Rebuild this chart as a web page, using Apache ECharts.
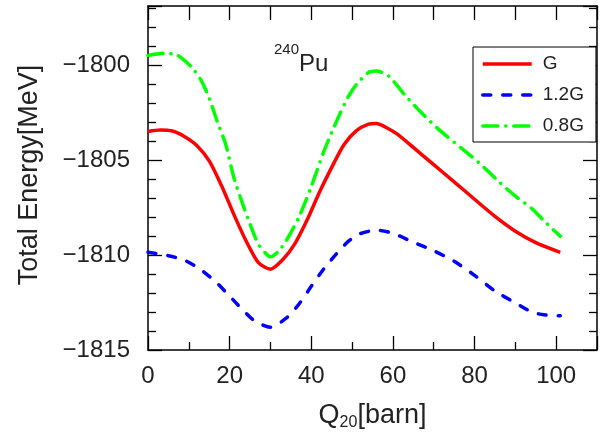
<!DOCTYPE html>
<html><head><meta charset="utf-8">
<script src="https://cdn.jsdelivr.net/npm/echarts@6/dist/echarts.min.js"></script>
<style>html,body{margin:0;padding:0;background:#fff}#c{width:600px;height:436px}</style>
</head><body><div id="c"></div>
<script>
// Q20 values (barn) and total energies (MeV)
const qG = [0,3,6,9,12,15,18,21,24,27,30,33,36,39,42,45,48,51,54,56,58,61,65,70,75,80,85,90,95,101];
const eG = [-1803.5,-1803.42,-1803.48,-1803.78,-1804.25,-1805.05,-1806.35,-1807.85,-1809.25,-1810.39,-1810.75,-1810.25,-1809.4,-1808.15,-1806.7,-1805.39,-1804.2,-1803.47,-1803.12,-1803.08,-1803.25,-1803.63,-1804.34,-1805.25,-1806.15,-1807.07,-1807.97,-1808.75,-1809.35,-1809.86];

const q12G = [0,5,9,13,17,20,23,26,30,34,37,40,43,46,49,52,56,60,65,70,75,80,85,90,94,97,101];
const e12G = [-1809.86,-1810.04,-1810.28,-1810.78,-1811.5,-1812.17,-1812.84,-1813.45,-1813.8,-1813.3,-1812.58,-1811.65,-1810.75,-1809.98,-1809.3,-1808.88,-1808.7,-1808.86,-1809.33,-1809.78,-1810.33,-1811.07,-1811.9,-1812.52,-1813.0,-1813.15,-1813.2];

const q08G = [0,4,7,9,11,13,15,17,19,21,23,25,27,29,30,32,34,37,40,43,45,47,49,51,54,56,59,63,66,71,77,81,86,90,94,97,101];
const e08G = [-1799.5,-1799.39,-1799.47,-1799.77,-1800.2,-1800.8,-1801.75,-1803.0,-1804.15,-1805.9,-1807.2,-1808.37,-1809.42,-1809.95,-1810.1,-1809.8,-1809.2,-1808.0,-1806.4,-1804.6,-1803.56,-1802.58,-1801.7,-1801.05,-1800.4,-1800.32,-1800.6,-1801.6,-1802.3,-1803.35,-1804.42,-1805.13,-1806.15,-1806.9,-1807.55,-1808.2,-1809.02];

const seriesNames = ['G', '1.2G', '0.8G'];
const xTickStep = 20, yTickStep = 5;

const font = '"Liberation Sans", Arial, Helvetica, sans-serif';
const txt = '#222';
const pairs = (q, e) => q.map((v, i) => [v, e[i]]);

const lineBlack = {color: '#000', width: 1.5};
const tickBlack = {color: '#000', width: 1.3};

const styles = [
  {color: '#ff0000', width: 3.5, type: 'solid'},
  {color: '#0000ff', width: 3.5, type: [8, 12], cap: 'round'},
  {color: '#00ff00', width: 3.5, type: [15, 8, 0.1, 8], cap: 'round'}
];

const chart = echarts.init(document.getElementById('c'));
chart.setOption({
  animation: false,
  backgroundColor: '#fff',
  grid: {left: 148, top: 6, width: 460, height: 344},
  xAxis: [{
    type: 'value', min: 0, max: 110, interval: xTickStep, position: 'bottom',
    axisLine: {onZero: false, lineStyle: lineBlack},
    axisTick: {inside: true, length: 14, lineStyle: tickBlack},
    minorTick: {show: true, splitNumber: 2, length: 8, lineStyle: tickBlack},
    splitLine: {show: false},
    axisLabel: {fontSize: 24, color: txt, margin: 14, fontFamily: font,
      formatter: v => (Math.abs(v % xTickStep) < 1e-9 ? String(v) : '')},
    name: '{a|Q}{s|20}{a|[barn]}', nameLocation: 'middle', nameGap: 51,
    nameTextStyle: {fontFamily: font, color: txt, rich: {
      a: {fontSize: 27, fontFamily: font, color: txt},
      s: {fontSize: 16, fontFamily: font, color: txt, padding: [14, 0, 0, 0]}
    }}
  }, {
    type: 'value', min: 0, max: 110, interval: 10, position: 'top',
    axisLine: {onZero: false, lineStyle: lineBlack},
    axisTick: {inside: true, length: 14, lineStyle: tickBlack},
    axisLabel: {show: false}, splitLine: {show: false}
  }],
  yAxis: [{
    type: 'value', min: -1815, max: -1796.9, interval: yTickStep, position: 'left',
    axisLine: {onZero: false, lineStyle: lineBlack},
    axisTick: {inside: true, length: 14, lineStyle: tickBlack},
    minorTick: {show: true, splitNumber: 5, length: 8, lineStyle: tickBlack},
    splitLine: {show: false},
    axisLabel: {fontSize: 24, color: txt, margin: 18, fontFamily: font,
      formatter: v => (Math.abs(v % yTickStep) < 1e-9 ? '\u2212' + Math.abs(v) : '')},
    name: 'Total Energy[MeV]', nameLocation: 'middle', nameGap: 105,
    nameTextStyle: {fontSize: 27, color: txt, fontFamily: font, padding: [0, 0, 0, 6]}
  }, {
    type: 'value', min: -1815, max: -1796.9, interval: yTickStep, position: 'right',
    axisLine: {onZero: false, lineStyle: lineBlack},
    axisTick: {inside: true, length: 14, lineStyle: tickBlack},
    minorTick: {show: true, splitNumber: 5, length: 8, lineStyle: tickBlack},
    axisLabel: {show: false}, splitLine: {show: false}
  }],
  legend: {
    orient: 'vertical', left: 473, top: 47,
    padding: [7, 12, 6, 8], itemGap: 11, itemWidth: 49, itemHeight: 14,
    borderColor: '#000', borderWidth: 1, backgroundColor: '#fff',
    textStyle: {fontSize: 19, color: txt, fontFamily: font, lineHeight: 20, padding: [0, 0, 0, 6]},
    itemStyle: {opacity: 0},
    data: seriesNames.map((n, i) => ({name: n, lineStyle: styles[i], itemStyle: {opacity: 0}}))
  },
  graphic: [
    {type: 'text', left: 274, top: 42, style: {text: '240', fontSize: 15, fontFamily: font, fill: txt}},
    {type: 'text', left: 299, top: 52, style: {text: 'Pu', fontSize: 24, fontFamily: font, fill: txt}}
  ],
  series: [
    {name: seriesNames[0], type: 'line', data: pairs(qG, eG), symbol: 'none', smooth: 0.25,
      lineStyle: styles[0], itemStyle: {color: styles[0].color}},
    {name: seriesNames[1], type: 'line', data: pairs(q12G, e12G), symbol: 'none', smooth: 0.25,
      lineStyle: styles[1], itemStyle: {color: styles[1].color}},
    {name: seriesNames[2], type: 'line', data: pairs(q08G, e08G), symbol: 'none', smooth: 0.25,
      lineStyle: styles[2], itemStyle: {color: styles[2].color}}
  ]
});
</script></body></html>
